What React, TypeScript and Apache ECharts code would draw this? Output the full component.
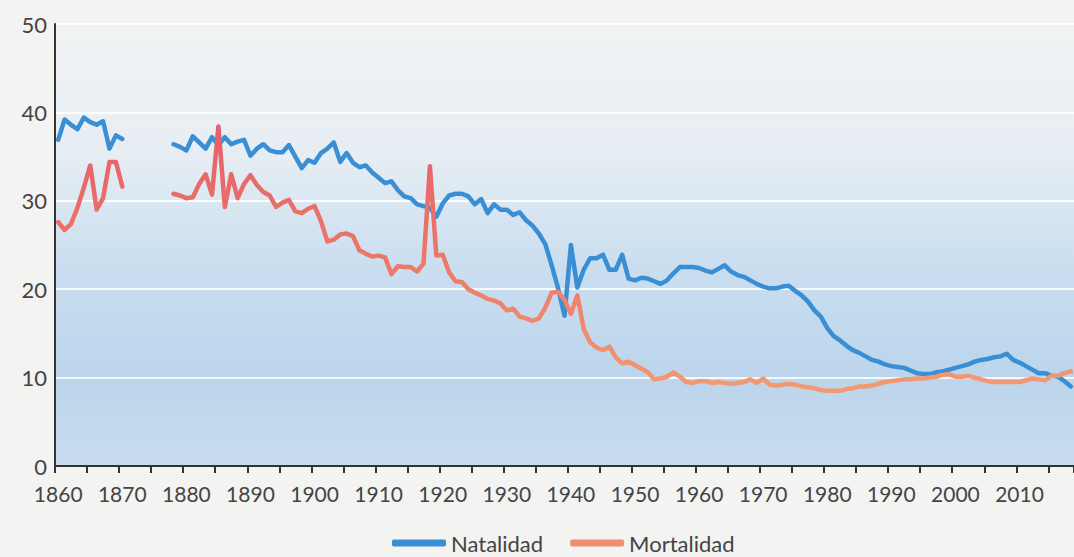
import React, { useEffect, useRef } from "react";
import * as echarts from "echarts";

const FIRST_YEAR = 1860;
const LAST_YEAR = 2018;
const years: string[] = [];
for (let y = FIRST_YEAR; y <= LAST_YEAR; y++) years.push(String(y));

const GAP = [null, null, null, null, null, null, null]; // 1871-1877

const natalidad: (number | null)[] = [
  // 1860-1869
  36.9, 39.2, 38.6, 38.1, 39.4, 38.9, 38.6, 39.0, 35.9, 37.4,
  // 1870-1879
  37.0, ...GAP, 36.4, 36.1,
  // 1880-1889
  35.7, 37.3, 36.6, 35.9, 37.2, 36.3, 37.2, 36.4, 36.7, 36.9,
  // 1890-1899
  35.1, 35.9, 36.4, 35.7, 35.5, 35.5, 36.3, 35.0, 33.7, 34.6,
  // 1900-1909
  34.3, 35.4, 35.9, 36.6, 34.4, 35.4, 34.3, 33.8, 34.0, 33.2,
  // 1910-1919
  32.6, 32.0, 32.2, 31.2, 30.5, 30.3, 29.6, 29.4, 29.2, 28.2,
  // 1920-1929
  29.7, 30.6, 30.8, 30.8, 30.5, 29.6, 30.2, 28.6, 29.6, 29.0,
  // 1930-1939
  29.0, 28.4, 28.7, 27.8, 27.2, 26.3, 25.1, 22.7, 20.1, 17.0,
  // 1940-1949
  25.0, 20.2, 22.2, 23.5, 23.5, 23.9, 22.2, 22.2, 23.9, 21.2,
  // 1950-1959
  21.0, 21.3, 21.2, 20.9, 20.6, 21.0, 21.8, 22.5, 22.5, 22.5,
  // 1960-1969
  22.4, 22.1, 21.9, 22.3, 22.7, 22.0, 21.6, 21.4, 21.0, 20.6,
  // 1970-1979
  20.3, 20.1, 20.1, 20.3, 20.4, 19.8, 19.3, 18.6, 17.6, 16.9,
  // 1980-1989
  15.6, 14.7, 14.2, 13.6, 13.1, 12.8, 12.4, 12.0, 11.8, 11.5,
  // 1990-1999
  11.3, 11.2, 11.1, 10.8, 10.5, 10.4, 10.4, 10.6, 10.7, 10.9,
  // 2000-2009
  11.1, 11.3, 11.5, 11.8, 12.0, 12.1, 12.3, 12.4, 12.7, 12.0,
  // 2010-2018
  11.7, 11.3, 10.9, 10.5, 10.5, 10.2, 10.1, 9.6, 9.0,
];

const mortalidad: (number | null)[] = [
  // 1860-1869
  27.6, 26.7, 27.4, 29.2, 31.5, 34.0, 29.0, 30.3, 34.4, 34.4,
  // 1870-1879
  31.6, ...GAP, 30.8, 30.6,
  // 1880-1889
  30.3, 30.4, 31.9, 33.0, 30.7, 38.4, 29.3, 33.0, 30.3, 31.9,
  // 1890-1899
  32.9, 31.8, 31.0, 30.6, 29.3, 29.8, 30.1, 28.8, 28.6, 29.1,
  // 1900-1909
  29.4, 27.7, 25.4, 25.6, 26.2, 26.3, 26.0, 24.4, 24.0, 23.7,
  // 1910-1919
  23.8, 23.6, 21.7, 22.6, 22.5, 22.5, 22.0, 22.9, 33.9, 23.8,
  // 1920-1929
  23.9, 21.9, 20.9, 20.8, 20.0, 19.6, 19.3, 18.9, 18.7, 18.4,
  // 1930-1939
  17.6, 17.8, 16.9, 16.7, 16.4, 16.7, 17.9, 19.6, 19.7, 18.8,
  // 1940-1949
  17.2, 19.3, 15.5, 14.0, 13.4, 13.1, 13.5, 12.3, 11.6, 11.8,
  // 1950-1959
  11.4, 11.0, 10.6, 9.8, 9.9, 10.1, 10.6, 10.1, 9.5, 9.4,
  // 1960-1969
  9.6, 9.6, 9.4, 9.5, 9.4, 9.3, 9.4, 9.5, 9.8, 9.4,
  // 1970-1979
  9.9, 9.2, 9.1, 9.2, 9.3, 9.2, 9.0, 8.9, 8.8, 8.6,
  // 1980-1989
  8.5, 8.5, 8.5, 8.7, 8.8, 9.0, 9.0, 9.1, 9.3, 9.5,
  // 1990-1999
  9.6, 9.7, 9.8, 9.8, 9.9, 9.9, 10.0, 10.1, 10.3, 10.4,
  // 2000-2009
  10.1, 10.1, 10.2, 10.0, 9.8, 9.6, 9.5, 9.5, 9.5, 9.5,
  // 2010-2018
  9.5, 9.7, 9.9, 9.8, 9.7, 10.2, 10.2, 10.5, 10.7,
];

const FONT = "Lato, 'Open Sans', sans-serif";
const BLUE = "#3a8fd4";
const SALMON = "#f0906e";

export default function App() {
  const ref = useRef<HTMLDivElement>(null);
  useEffect(() => {
    if (!ref.current) return;
    const chart = echarts.init(ref.current, null, { renderer: "svg" });
    chart.setOption({
      animation: false,
      backgroundColor: "#f3f3f1",
      grid: {
        left: 55,
        right: -2,
        top: 24,
        bottom: 91,
        show: true,
        borderWidth: 0,
        backgroundColor: {
          type: "linear",
          x: 0,
          y: 0,
          x2: 0,
          y2: 1,
          colorStops: [
            { offset: 0, color: "#f1f3f3" },
            { offset: 0.3, color: "#e6edf3" },
            { offset: 0.55, color: "#cadef0" },
            { offset: 0.8, color: "#bcd5ec" },
            { offset: 1, color: "#c8dcee" },
          ],
        },
      },
      legend: {
        left: 392,
        top: 531,
        icon: "roundRect",
        itemWidth: 54,
        itemHeight: 7,
        itemGap: 27,
        padding: 0,
        textStyle: {
          fontFamily: FONT,
          fontSize: 22,
          lineHeight: 24,
          color: "#444",
        },
        data: [
          { name: "Natalidad", itemStyle: { color: BLUE } },
          { name: "Mortalidad", itemStyle: { color: SALMON } },
        ],
      },
      xAxis: {
        type: "category",
        data: years,
        boundaryGap: true,
        axisLine: { show: true, lineStyle: { color: "#333", width: 2 } },
        axisTick: {
          show: true,
          interval: 4,
          length: 7,
          lineStyle: { color: "#333", width: 2 },
        },
        axisLabel: {
          interval: 9,
          margin: 17,
          fontFamily: FONT,
          fontSize: 21,
          color: "#444",
        },
        splitLine: { show: false },
      },
      yAxis: {
        type: "value",
        min: 0,
        max: 50,
        interval: 10,
        axisLine: { show: true, lineStyle: { color: "#333", width: 2 } },
        axisTick: { show: false },
        axisLabel: {
          margin: 8,
          fontFamily: FONT,
          fontSize: 22,
          color: "#444",
        },
        splitLine: {
          show: true,
          lineStyle: { color: "rgba(255,255,255,0.85)", width: 2 },
        },
      },
      series: [
        {
          name: "Natalidad",
          type: "line",
          data: natalidad,
          showSymbol: false,
          symbol: "none",
          connectNulls: false,
          itemStyle: { color: BLUE },
          lineStyle: { color: BLUE, width: 4.5, cap: "round", join: "round" },
          z: 3,
        },
        {
          name: "Mortalidad",
          type: "line",
          data: mortalidad,
          showSymbol: false,
          symbol: "none",
          connectNulls: false,
          itemStyle: { color: SALMON },
          lineStyle: {
            width: 4.5,
            cap: "round",
            join: "round",
            color: {
              type: "linear",
              x: 0,
              y: 0,
              x2: 0,
              y2: 1,
              colorStops: [
                { offset: 0, color: "#e4606a" },
                { offset: 0.5, color: "#ec7868" },
                { offset: 1, color: "#f29a72" },
              ],
            },
          },
          z: 4,
        },
      ],
    });
    return () => chart.dispose();
  }, []);
  return (
    <div
      ref={ref}
      style={{ position: "fixed", left: 0, top: 0, width: 1074, height: 557 }}
    />
  );
}
